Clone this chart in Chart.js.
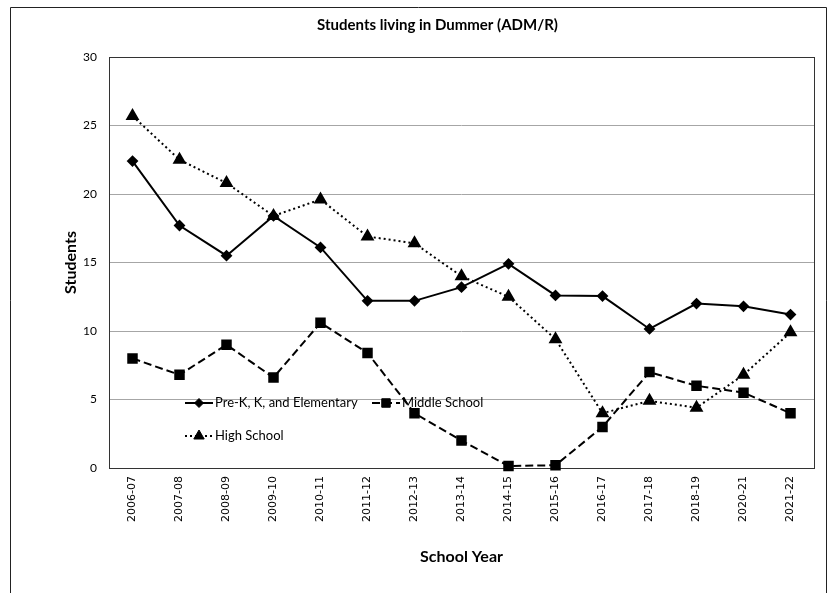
<!DOCTYPE html>
<html>
<head>
<meta charset="utf-8">
<script src="https://cdn.jsdelivr.net/npm/chart.js@4"></script>
<style>
  html, body { margin: 0; padding: 0; background: #fff; }
  #wrap { position: relative; width: 830px; height: 593px; }
</style>
</head>
<body>
<div id="wrap"><canvas id="myChart" width="830" height="593"></canvas></div>
<script>
const ctx = document.querySelector('#myChart').getContext('2d');

// school years on the x axis
const years = [
  '2006-07', '2007-08', '2008-09', '2009-10', '2010-11', '2011-12', '2012-13', '2013-14',
  '2014-15', '2015-16', '2016-17', '2017-18', '2018-19', '2020-21', '2021-22'
];

// students per level
const preK = [22.4, 17.7, 15.5, 18.4, 16.1, 12.2, 12.2, 13.2, 14.9, 12.6, 12.55, 10.15, 12.0, 11.8, 11.2];
const middle = [8.0, 6.8, 9.0, 6.6, 10.6, 8.4, 4.0, 2.0, 0.15, 0.2, 3.0, 7.0, 6.0, 5.5, 4.0];
const high = [25.7, 22.5, 20.8, 18.4, 19.6, 16.9, 16.4, 14.0, 12.5, 9.4, 4.0, 4.9, 4.4, 6.8, 9.9];

const yMax = 30;
const yStep = 5;

// outer frame + plot box
const framePlugin = {
  id: 'frame',
  beforeDraw(chart) {
    const c = chart.ctx;
    c.save();
    c.strokeStyle = '#222';
    c.lineWidth = 1;
    c.beginPath();
    c.moveTo(10.5, 593);
    c.lineTo(10.5, 7.5);
    c.lineTo(826.5, 7.5);
    c.lineTo(826.5, 593);
    c.stroke();
    c.restore();
  },
  beforeDatasetsDraw(chart) {
    const a = chart.chartArea;
    const c = chart.ctx;
    c.save();
    c.strokeStyle = '#333';
    c.lineWidth = 1;
    c.strokeRect(Math.round(a.left) + 0.5, Math.round(a.top) + 0.5,
      Math.round(a.right - a.left), Math.round(a.bottom - a.top));
    c.restore();
  }
};

// legend sits inside the plot, drawn by hand
const legendSpots = [[185, 403], [372, 403], [185, 436]];
const legendPlugin = {
  id: 'innerLegend',
  afterDraw(chart) {
    const c = chart.ctx;
    c.save();
    chart.data.datasets.forEach((ds, i) => {
      const [x, y] = legendSpots[i];
      c.strokeStyle = '#000';
      c.lineWidth = ds.borderWidth;
      c.setLineDash(ds.borderDash || []);
      c.beginPath();
      c.moveTo(x, y);
      c.lineTo(x + 28, y);
      c.stroke();
      c.setLineDash([]);
      c.fillStyle = '#000';
      c.lineWidth = 1;
      Chart.helpers.drawPoint(c, { pointStyle: ds.pointStyle, radius: ds.pointRadius, borderWidth: 1, rotation: 0 }, x + 14, y);
      c.font = '13px Lato';
      c.textBaseline = 'middle';
      c.textAlign = 'left';
      c.fillText(ds.label, x + 30, y);
    });
    c.restore();
  }
};

const data = {
  labels: years,
  datasets: [
    {
      label: 'Pre-K, K, and Elementary',
      data: preK,
      borderColor: '#000',
      backgroundColor: '#000',
      borderWidth: 2,
      pointStyle: 'rectRot',
      pointRadius: 4.5,
      pointBackgroundColor: '#000',
      pointBorderColor: '#000',
      tension: 0
    },
    {
      label: 'Middle School',
      data: middle,
      borderColor: '#000',
      backgroundColor: '#000',
      borderWidth: 2,
      borderDash: [8, 4],
      pointStyle: 'rect',
      pointRadius: 6,
      pointBackgroundColor: '#000',
      pointBorderColor: '#000',
      tension: 0
    },
    {
      label: 'High School',
      data: high,
      borderColor: '#000',
      backgroundColor: '#000',
      borderWidth: 2,
      borderDash: [2, 3],
      pointStyle: 'triangle',
      pointRadius: 6,
      pointBackgroundColor: '#000',
      pointBorderColor: '#000',
      tension: 0
    }
  ]
};

const config = {
  type: 'line',
  data: data,
  plugins: [framePlugin, legendPlugin],
  options: {
    responsive: false,
    maintainAspectRatio: false,
    animation: false,
    clip: false,
    layout: { padding: { left: 61, right: 16, top: 0, bottom: 27 } },
    plugins: {
      legend: { display: false },
      tooltip: { enabled: false },
      title: {
        display: true,
        text: 'Students living in Dummer (ADM/R)',
        color: '#000',
        font: { family: 'Lato', size: 15, weight: 'bold' },
        padding: { top: 16, bottom: 23 }
      }
    },
    scales: {
      x: {
        offset: true,
        afterFit: (s) => { s.height = 98; },
        grid: { display: false, drawTicks: false },
        border: { display: false },
        ticks: {
          autoSkip: false,
          minRotation: 90,
          maxRotation: 90,
          padding: 8,
          color: '#000',
          font: { family: "'DejaVu Sans'", size: 11 }
        },
        title: {
          display: true,
          text: 'School Year',
          color: '#000',
          font: { family: 'Lato', size: 16, weight: 'bold' },
          padding: { top: 0, bottom: 0 }
        }
      },
      y: {
        min: 0,
        max: yMax,
        afterFit: (s) => { s.width = 48; },
        grid: {
          drawTicks: false,
          color: (c) => (c.tick && (c.tick.value === 0 || c.tick.value === yMax)) ? 'rgba(0,0,0,0)' : '#a6a6a6'
        },
        border: { display: false },
        ticks: {
          stepSize: yStep,
          padding: 12,
          color: '#000',
          font: { family: 'Lato', size: 12 }
        },
        title: {
          display: true,
          text: 'Students',
          color: '#000',
          font: { family: 'Lato', size: 16, weight: 'bold' },
          padding: { top: 0, bottom: 0 }
        }
      }
    }
  }
};

const myChart = new Chart(ctx, config);
</script>
</body>
</html>
